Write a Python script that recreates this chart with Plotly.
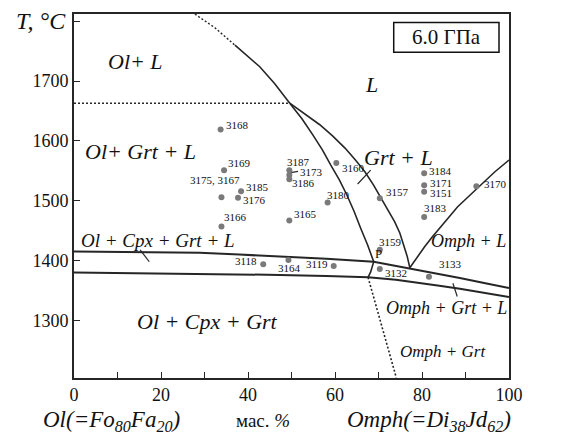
import plotly.graph_objects as go

# ---- experimental runs: Omph content (wt.%) and temperature (°C) ----
run_ids = ["3168", "3169", "3175, 3167", "3185", "3176", "3166", "3187", "3173",
           "3186", "3180", "3165", "3160", "3184", "3171", "3151", "3183",
           "3170", "3157", "3159", "3132", "3133", "3119", "3164", "3118"]
run_x = [33.7, 34.5, 33.9, 38.4, 37.7, 33.9, 49.5, 49.5,
         49.5, 58.3, 49.5, 60.3, 80.5, 80.5, 80.5, 80.5,
         92.5, 70.3, 70.3, 70.3, 81.6, 59.7, 49.3, 43.5]
run_t = [1619, 1551, 1506, 1516, 1505, 1457, 1551, 1543,
         1536, 1497, 1467, 1563, 1546, 1526, 1515, 1473,
         1524, 1504, 1418, 1386, 1373, 1391, 1401, 1394]

# ---- phase boundaries ----
ol_liq_dash_x = [27.8, 32.4, 37.0]
ol_liq_dash_t = [1812, 1789, 1760]
ol_liq_x = [37.0, 42.7, 46.1, 49.6]
ol_liq_t = [1760, 1724, 1696, 1663]

ol_grt_dash_x = [0, 49.6]
ol_grt_dash_t = [1663, 1663]

grt_in_x = [49.6, 52.4, 54.9, 57.1, 59.0, 61.0, 62.7, 64.4, 65.9, 67.5, 68.9]
grt_in_t = [1663, 1637, 1610, 1585, 1560, 1535, 1510, 1482, 1454, 1426, 1398]

grt_liq_x = [49.6, 53.0, 56.5, 59.5, 62.3, 64.7, 66.9, 68.8, 70.5, 72.2, 73.7, 74.9, 75.8, 76.6, 77.2]
grt_liq_t = [1663, 1646, 1627, 1608, 1588, 1568, 1548, 1527, 1506, 1486, 1465, 1446, 1426, 1407, 1388]

omph_liq_x = [77.2, 78.9, 80.6, 82.3, 84.1, 86.1, 88.2, 90.4, 92.6, 94.6, 96.7, 100]
omph_liq_t = [1388, 1406, 1423, 1439, 1454, 1472, 1490, 1505, 1520, 1534, 1548, 1568]

upper_sol_x = [0, 15, 28.9, 38, 47.3, 58, 68.9, 77.2, 83, 88.7, 94, 100]
upper_sol_t = [1415, 1414.5, 1413, 1410, 1407, 1403, 1398, 1387, 1379, 1371, 1363, 1354]

lower_sol_x = [0, 15, 28.9, 38, 47.3, 58, 67.6, 74, 79.5, 84, 88.7, 94, 100]
lower_sol_t = [1380, 1379, 1378, 1377, 1376, 1374, 1372, 1368, 1363, 1358, 1353, 1346, 1339]

p_link_x = [68.9, 68.2, 67.6]
p_link_t = [1398, 1381, 1372]

ol_out_dash_x = [67.6, 70.3, 74.1]
ol_out_dash_t = [1372, 1301, 1204]

# ---- pointer strokes from field names ----
pointers = [
    ([15.2, 17.3], [1418, 1398]),   # Ol + Cpx + Grt + L
    ([68.2, 65.2], [1551, 1528]),   # Grt + L
    ([87.1, 88.1], [1362, 1340]),   # Omph + Grt + L
    ([49.8, 51.5], [1547, 1549]),   # 3173
]

# ---- field names ----
field_text = ["Ol+ L", "L", "Ol+ Grt + L", "Grt + L", "Ol + Cpx + Grt + L",
              "Ol + Cpx + Grt", "Omph + L", "Omph + Grt + L", "Omph + Grt"]
field_x = [14.2, 68.5, 15.3, 74.7, 19.2, 30.7, 90.7, 85.7, 84.8]
field_t = [1732, 1695, 1582, 1573, 1434, 1298, 1432, 1320, 1248]
field_size = [22, 22, 22, 22, 19, 22, 18, 18, 17]

# pressure label and its frame (wt.% / °C corners)
pressure_text = "6.0 ГПа"
frame_x = [73.5, 97.7]
frame_t = [1748, 1798]

x_major = [0, 20, 40, 60, 80, 100]
y_major = [1300, 1400, 1500, 1600, 1700]

# label placement: (xshift px, yshift px, xanchor)
label_place = {
    "3168": (3, 5, "left"), "3169": (2, 7, "left"), "3175, 3167": (-6, 17, "center"),
    "3185": (3, 4, "left"), "3176": (3, -2, "left"), "3166": (1, 9, "left"),
    "3187": (-4, 8, "left"), "3173": (9, 3, "left"), "3186": (1, -4, "left"),
    "3180": (-3, 8, "left"), "3165": (3, 6, "left"), "3160": (4, -5, "left"),
    "3184": (3, 2, "left"), "3171": (4, 2, "left"), "3151": (4, -1, "left"),
    "3183": (-2, 9, "left"), "3170": (6, 2, "left"), "3157": (4, 6, "left"),
    "3159": (-3, 8, "left"), "3132": (3, -4, "left"), "3133": (8, 13, "left"),
    "3119": (-4, 2, "right"), "3164": (-12, -8, "left"), "3118": (-4, 3, "right"),
}

SERIF = "serif"
INK = "#262626"

fig = go.Figure()


def add_line(xs, ts, dash="solid", width=1.6, color=INK):
    fig.add_trace(go.Scatter(x=xs, y=ts, mode="lines", hoverinfo="skip",
                             line=dict(color=color, width=width, dash=dash)))


DOTS = "2px,2px"
add_line(ol_liq_dash_x, ol_liq_dash_t, dash=DOTS, width=1.4)
add_line(ol_liq_x, ol_liq_t)
add_line(ol_grt_dash_x, ol_grt_dash_t, dash=DOTS, width=1.4)
add_line(grt_in_x, grt_in_t)
add_line(grt_liq_x, grt_liq_t)
add_line(omph_liq_x, omph_liq_t)
add_line(upper_sol_x, upper_sol_t, width=2)
add_line(lower_sol_x, lower_sol_t, width=2)
add_line(p_link_x, p_link_t, width=1.6)
add_line(ol_out_dash_x, ol_out_dash_t, dash=DOTS, width=1.6)
for px_, pt_ in pointers:
    add_line(px_, pt_, width=1.2)

fig.add_trace(go.Scatter(x=run_x, y=run_t, mode="markers", hoverinfo="skip",
                         marker=dict(size=6, color="#7a7a7a")))

annotations = []
for rid, xv, tv in zip(run_ids, run_x, run_t):
    dx, dy, anchor = label_place[rid]
    annotations.append(dict(x=xv, y=tv, text=rid, showarrow=False,
                            xanchor=anchor, yanchor="middle", xshift=dx, yshift=dy,
                            font=dict(family=SERIF, size=11)))

for txt, xv, tv, sz in zip(field_text, field_x, field_t, field_size):
    annotations.append(dict(x=xv, y=tv, text=txt, showarrow=False,
                            xanchor="center", yanchor="middle",
                            font=dict(family=SERIF, size=sz, style="italic")))

# invariant point P
annotations.append(dict(x=68.9, y=1398, text="P", showarrow=False,
                        xanchor="left", yanchor="bottom", xshift=-1, yshift=-1,
                        font=dict(family=SERIF, size=13)))

# pressure label inside its frame
annotations.append(dict(x=sum(frame_x) / 2, y=sum(frame_t) / 2, text=pressure_text,
                        showarrow=False, xanchor="center", yanchor="middle",
                        font=dict(family=SERIF, size=21)))
fig.add_shape(type="rect", xref="x", yref="y", x0=frame_x[0], x1=frame_x[1],
              y0=frame_t[0], y1=frame_t[1], line=dict(color="#111", width=1.5),
              fillcolor="white", layer="below")

# axis captions
annotations.append(dict(x=0, y=1800, xref="x", yref="y", text="T, °C",
                        showarrow=False, xanchor="right", yanchor="middle",
                        xshift=-6, font=dict(family=SERIF, size=24, style="italic")))
bottom_y = -0.118
annotations.append(dict(x=0.086, y=bottom_y, xref="paper", yref="paper",
                        text="Ol(=Fo<sub>80</sub>Fa<sub>20</sub>)", showarrow=False,
                        xanchor="center", yanchor="middle",
                        font=dict(family=SERIF, size=23, style="italic")))
annotations.append(dict(x=0.4356, y=bottom_y, xref="paper", yref="paper",
                        text="мас. <i>%</i>", showarrow=False,
                        xanchor="center", yanchor="middle",
                        font=dict(family=SERIF, size=19)))
annotations.append(dict(x=0.815, y=bottom_y, xref="paper", yref="paper",
                        text="Omph(=Di<sub>38</sub>Jd<sub>62</sub>)", showarrow=False,
                        xanchor="center", yanchor="middle",
                        font=dict(family=SERIF, size=23, style="italic")))

axis_common = dict(showline=True, linecolor=INK, linewidth=1.6, mirror=True,
                   ticks="inside", ticklen=6, tickwidth=1.4, tickcolor=INK,
                   showgrid=False, zeroline=False,
                   tickfont=dict(family=SERIF, size=18))

fig.update_layout(
    width=572, height=443,
    margin=dict(l=74, r=63, t=14, b=65),
    paper_bgcolor="white", plot_bgcolor="white",
    showlegend=False,
    font=dict(family=SERIF, color="#111"),
    xaxis=dict(range=[0, 100], tickvals=x_major,
               minor=dict(ticks="inside", dtick=10, tick0=0, ticklen=6,
                          tickwidth=1.4, tickcolor=INK, showgrid=False),
               **axis_common),
    yaxis=dict(range=[1203.7, 1812.1], tickvals=y_major,
               minor=dict(ticks="inside", dtick=100, tick0=1300, ticklen=6,
                          tickwidth=1.4, tickcolor=INK, showgrid=False),
               **axis_common),
    annotations=annotations,
)

fig.write_html("out.html")
